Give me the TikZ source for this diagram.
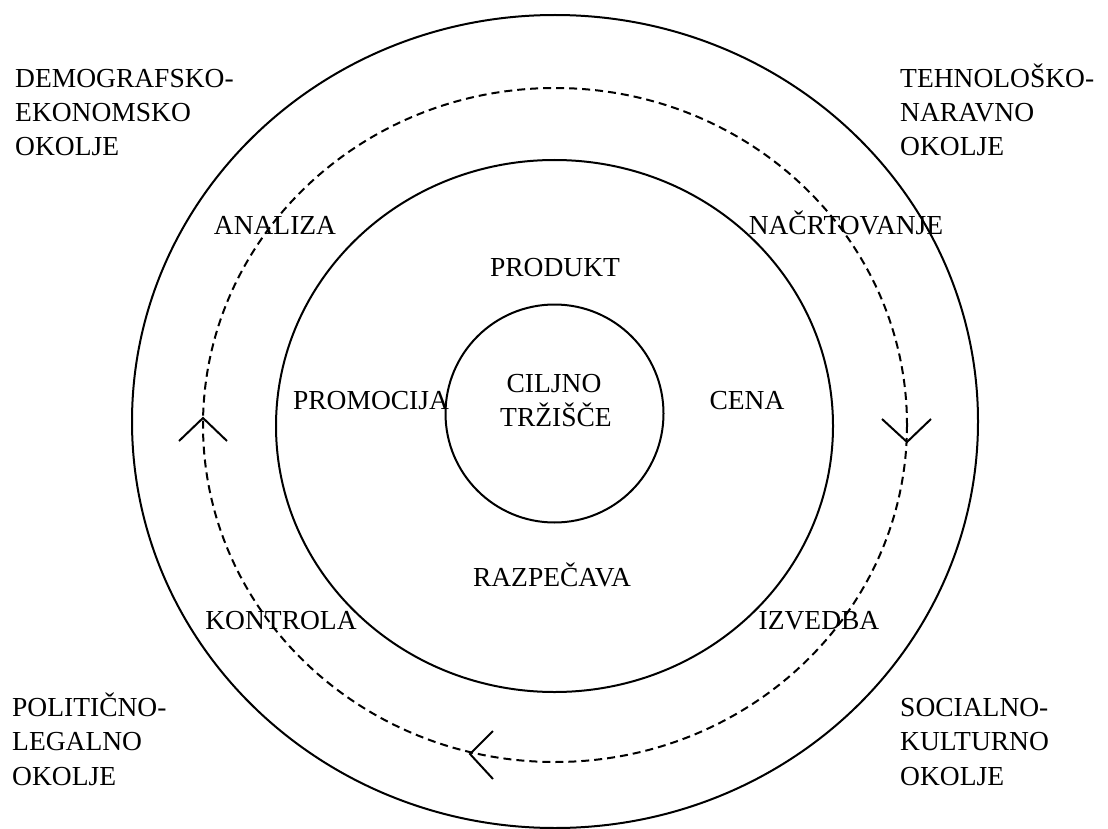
\documentclass[tikz,border=0pt]{standalone}
\usepackage{fontspec}
\setmainfont{Liberation Serif}
\usetikzlibrary{calc}
\begin{document}
\begin{tikzpicture}[x=1pt,y=-1pt,
  ring/.style={line width=2pt},
  dring/.style={line width=2pt, dash pattern=on 8pt off 5pt},
  vtip/.style={line width=2pt},
  lbl/.style={inner sep=0pt, font=\fontsize{27.5}{32}\selectfont},
  clbl/.style={lbl, anchor=base},
  wlbl/.style={lbl, anchor=base west}]
\useasboundingbox (0,0) rectangle (1108,829);
\fill[white] (0,0) rectangle (1108,829);
% rings
\draw[ring] (555,421.5) ellipse [x radius=423, y radius=406.5];
\draw[dring] (555,425) ellipse [x radius=352, y radius=337];
\draw[ring] (554.5,426) ellipse [x radius=278.5, y radius=266];
\node[ring, draw, circle, minimum size=218pt, inner sep=0pt] (core) at (554.5,413.5) {};
% direction marks on the dashed ring
\coordinate (tl) at (203,418);
\coordinate (tr) at (907,442);
\coordinate (tb) at (470,754);
\draw[vtip] ($(tl)+(-24,23)$) -- (tl) -- ($(tl)+(24,23)$);
\draw[vtip] ($(tr)+(-25,-23)$) -- (tr) -- ($(tr)+(24,-23)$);
\draw[vtip] ($(tb)+(23,-23)$) -- (tb) -- ($(tb)+(23,25)$);
% labels
\node[clbl] (ciljno) at (554,392) {CILJNO};
\node[clbl] (trzisce) at (556,426) {TRŽIŠČE};
\node[clbl] (produkt) at (555,276) {PRODUKT};
\node[clbl] (promocija) at (371,409) {PROMOCIJA};
\node[clbl] (cena) at (747,409) {CENA};
\node[clbl] (razpecava) at (552,586) {RAZPEČAVA};
\node[clbl] (analiza) at (275,234) {ANALIZA};
\node[clbl] (nacrtovanje) at (846,234) {NAČRTOVANJE};
\node[clbl] (kontrola) at (281,629) {KONTROLA};
\node[clbl] (izvedba) at (819,629) {IZVEDBA};
\node[wlbl] (d1) at (15,88) {DEMOGRAFSKO-};
\node[wlbl] (d2) at (15,122) {EKONOMSKO};
\node[wlbl] (d3) at (15,156) {OKOLJE};
\node[wlbl] (t1) at (900,88) {TEHNOLOŠKO-};
\node[wlbl] (t2) at (900,122) {NARAVNO};
\node[wlbl] (t3) at (900,156) {OKOLJE};
\node[wlbl] (p1) at (12,716) {POLITIČNO-};
\node[wlbl] (p2) at (12,750) {LEGALNO};
\node[wlbl] (p3) at (12,785) {OKOLJE};
\node[wlbl] (s1) at (900,716) {SOCIALNO-};
\node[wlbl] (s2) at (900,750) {KULTURNO};
\node[wlbl] (s3) at (900,785) {OKOLJE};
\end{tikzpicture}
\end{document}
